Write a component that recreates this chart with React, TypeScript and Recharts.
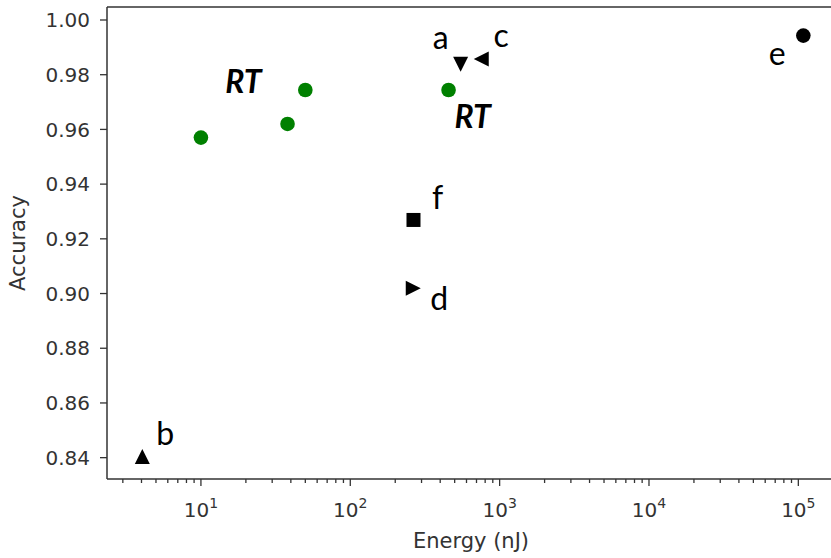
import React from 'react';
import { ScatterChart, Scatter, XAxis, YAxis, ReferenceLine } from 'recharts';

// ---- data ----
const rtEnergy = [10, 38, 50, 455];
const rtAccuracy = [0.957, 0.962, 0.9744, 0.9744];
const rtLabels = ['', '', 'RT', 'RT'];

const refNames = ['a', 'b', 'c', 'd', 'e', 'f'];
const refEnergy = [548, 4.05, 753, 264, 108000, 265];
const refAccuracy = [0.9838, 0.8404, 0.9857, 0.9019, 0.9943, 0.9269];

const yTicks = [0.84, 0.86, 0.88, 0.9, 0.92, 0.94, 0.96, 0.98, 1.0];
const xMajorTicks = [10, 100, 1000, 10000, 100000];
const xDomain: [number, number] = [2.35, 176000];
const yDomain: [number, number] = [0.8322, 1.00475];

// ---- styles ----
const markerKind: Record<string, string> = {
  a: 'down', b: 'up', c: 'left', d: 'right', e: 'circle', f: 'square',
};
const labelOffset: Record<string, [number, number]> = {
  a: [-20, -15], b: [23, -12], c: [20, -12], d: [26, 22], e: [-26, 29], f: [24, -11],
};
const rtLabelOffset: [number, number][] = [[0, 0], [0, 0], [-62, 3], [24, 38]];

const minorTicks: number[] = [];
for (let d = 0; d <= 5; d++) {
  for (let k = 2; k <= 9; k++) {
    const v = k * Math.pow(10, d);
    if (v >= xDomain[0] && v <= xDomain[1]) minorTicks.push(v);
  }
}
const allXTicks = [...minorTicks, ...xMajorTicks].sort((p, q) => p - q);

const rtData = rtEnergy.map((e, i) => ({ energy: e, accuracy: rtAccuracy[i], label: rtLabels[i], idx: i }));
const refData = refNames.map((n, i) => ({ energy: refEnergy[i], accuracy: refAccuracy[i], name: n }));

const AXIS = '#333';
const TICK_FONT = 'DejaVu Sans';
const ANNOT_FONT = 'Lato';

const XTick = (props: any) => {
  const { x, y, payload } = props;
  const v = payload.value;
  const isMajor = xMajorTicks.includes(v);
  return (
    <g>
      <line x1={x} x2={x} y1={y} y2={y + (isMajor ? 7 : 4)} stroke={AXIS} strokeWidth={1.3} />
      {isMajor && (
        <text x={x} y={y + 38} textAnchor="middle" fontFamily={TICK_FONT} fontSize={20} fill={AXIS}>
          <tspan>10</tspan>
          <tspan dy={-9} fontSize={14}>{Math.round(Math.log10(v))}</tspan>
        </text>
      )}
    </g>
  );
};

const YTick = (props: any) => {
  const { x, y, payload } = props;
  return (
    <g>
      <line x1={x - 7} x2={x} y1={y} y2={y} stroke={AXIS} strokeWidth={1.3} />
      <text x={x - 17} y={y} dy="0.36em" textAnchor="end" fontFamily={TICK_FONT} fontSize={20} fill={AXIS}>
        {Number(payload.value).toFixed(2)}
      </text>
    </g>
  );
};

const drawMarker = (kind: string, cx: number, cy: number) => {
  const s = 7.5;
  switch (kind) {
    case 'circle':
      return <circle cx={cx} cy={cy} r={7.3} fill="#000" />;
    case 'square':
      return <rect x={cx - 7} y={cy - 7} width={14} height={14} fill="#000" />;
    case 'up':
      return <polygon points={`${cx},${cy - s} ${cx - s},${cy + s} ${cx + s},${cy + s}`} fill="#000" />;
    case 'down':
      return <polygon points={`${cx},${cy + s} ${cx - s},${cy - s} ${cx + s},${cy - s}`} fill="#000" />;
    case 'left':
      return <polygon points={`${cx - s},${cy} ${cx + s},${cy - s} ${cx + s},${cy + s}`} fill="#000" />;
    case 'right':
      return <polygon points={`${cx + s},${cy} ${cx - s},${cy - s} ${cx - s},${cy + s}`} fill="#000" />;
    default:
      return null;
  }
};

const RefShape = (props: any) => {
  const { cx, cy, payload } = props;
  const name = payload.name;
  const [dx, dy] = labelOffset[name];
  return (
    <g>
      {drawMarker(markerKind[name], cx, cy)}
      <text x={cx + dx} y={cy + dy} textAnchor="middle" fontFamily={ANNOT_FONT} fontSize={32} fill="#000">
        {name}
      </text>
    </g>
  );
};

const RtShape = (props: any) => {
  const { cx, cy, payload } = props;
  const [dx, dy] = rtLabelOffset[payload.idx];
  return (
    <g>
      <circle cx={cx} cy={cy} r={7.3} fill="#008000" />
      {payload.label && (
        <text x={cx + dx} y={cy + dy} textAnchor="middle" fontFamily={ANNOT_FONT} fontSize={32}
          fontWeight="bold" fontStyle="italic" fill="#000">
          {payload.label}
        </text>
      )}
    </g>
  );
};

const XLabel = (props: any) => {
  const vb = props.viewBox;
  return (
    <text x={vb.x + vb.width / 2} y={vb.y + 69} textAnchor="middle" fontFamily={TICK_FONT} fontSize={21} fill={AXIS}>
      Energy (nJ)
    </text>
  );
};

const YLabel = (props: any) => {
  const vb = props.viewBox;
  const cx = vb.x + 25;
  const cy = vb.y + vb.height / 2;
  return (
    <text x={cx} y={cy} transform={`rotate(-90, ${cx}, ${cy})`} textAnchor="middle" fontFamily={TICK_FONT} fontSize={21} fill={AXIS}>
      Accuracy
    </text>
  );
};

export default function App() {
  return (
    <div style={{ position: 'absolute', left: 0, top: 0, width: 831, height: 558, overflow: 'hidden', background: '#fff' }}>
      <ScatterChart width={840} height={558} margin={{ top: 7, right: 5, bottom: 0, left: 0 }}>
        <XAxis
          type="number"
          dataKey="energy"
          scale="log"
          domain={xDomain}
          allowDataOverflow
          ticks={allXTicks}
          interval={0}
          tick={<XTick />}
          tickLine={false}
          tickSize={0}
          tickMargin={0}
          height={79}
          axisLine={{ stroke: AXIS, strokeWidth: 1.5 }}
          label={XLabel}
        />
        <YAxis
          type="number"
          dataKey="accuracy"
          domain={yDomain}
          allowDataOverflow
          ticks={yTicks}
          interval={0}
          tick={<YTick />}
          tickLine={false}
          tickSize={0}
          tickMargin={0}
          width={107}
          axisLine={{ stroke: AXIS, strokeWidth: 1.5 }}
          label={YLabel}
        />
        <ReferenceLine y={yDomain[1]} stroke={AXIS} strokeWidth={1.5} ifOverflow="visible" />
        <ReferenceLine x={xDomain[1]} stroke={AXIS} strokeWidth={1.5} ifOverflow="visible" />
        <Scatter data={rtData} shape={RtShape} isAnimationActive={false} />
        <Scatter data={refData} shape={RefShape} isAnimationActive={false} />
      </ScatterChart>
    </div>
  );
}
